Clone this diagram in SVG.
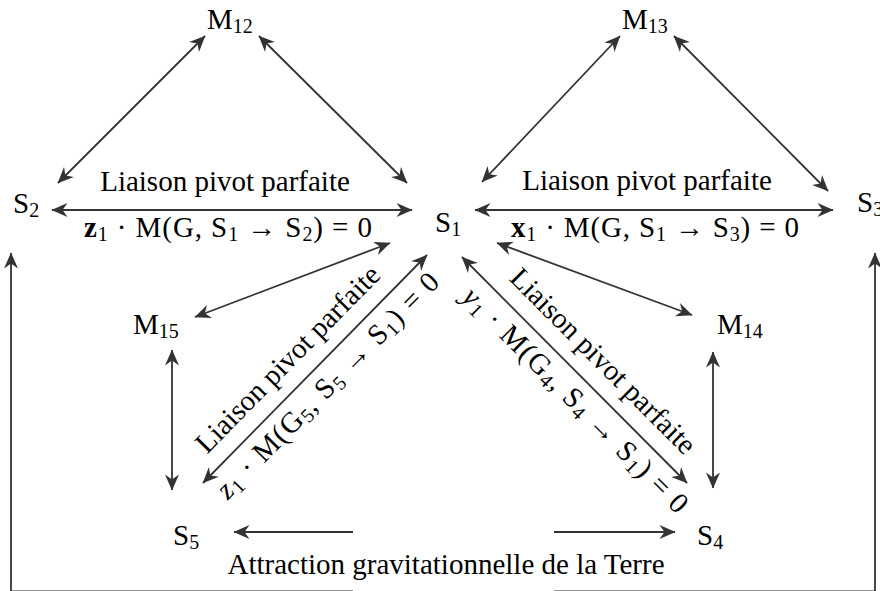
<svg xmlns="http://www.w3.org/2000/svg" width="880" height="591" viewBox="0 0 880 591">
<style>
text{font-family:"Liberation Serif","Times New Roman",serif;font-size:29px;fill:#000}
.sub{font-size:20px}
.c{stroke:#333;stroke-width:1.8;fill:none}
.b{font-weight:bold}
</style>
<defs>
<marker id="ah" viewBox="-17 -8 18 16" refX="0" refY="0" markerWidth="18" markerHeight="16" markerUnits="userSpaceOnUse" orient="auto-start-reverse">
<path d="M0.5,0 L-15.5,-7 L-10.5,0 L-15.5,7 Z" fill="#333"/>
</marker>
</defs>
<rect width="880" height="591" fill="#fff"/>
<g id="connectors">
<line class="c" x1="205" y1="36" x2="58" y2="183" marker-start="url(#ah)" marker-end="url(#ah)"/>
<line class="c" x1="259" y1="36" x2="407" y2="183" marker-start="url(#ah)" marker-end="url(#ah)"/>
<line class="c" x1="52" y1="210" x2="412" y2="210" marker-start="url(#ah)" marker-end="url(#ah)"/>
<line class="c" x1="620" y1="36" x2="482" y2="182" marker-start="url(#ah)" marker-end="url(#ah)"/>
<line class="c" x1="674" y1="36" x2="828" y2="191" marker-start="url(#ah)" marker-end="url(#ah)"/>
<line class="c" x1="475" y1="210" x2="833" y2="210" marker-start="url(#ah)" marker-end="url(#ah)"/>
<line class="c" x1="195" y1="317" x2="390" y2="243" marker-start="url(#ah)" marker-end="url(#ah)"/>
<line class="c" x1="172" y1="350" x2="172" y2="490" marker-start="url(#ah)" marker-end="url(#ah)"/>
<line class="c" x1="203" y1="483" x2="427" y2="255" marker-start="url(#ah)" marker-end="url(#ah)"/>
<line class="c" x1="692" y1="315" x2="497" y2="243" marker-start="url(#ah)" marker-end="url(#ah)"/>
<line class="c" x1="713" y1="352" x2="713" y2="488" marker-start="url(#ah)" marker-end="url(#ah)"/>
<line class="c" x1="687" y1="483" x2="462" y2="257" marker-start="url(#ah)" marker-end="url(#ah)"/>
<line class="c" x1="353" y1="532" x2="234" y2="532" marker-end="url(#ah)"/>
<line class="c" x1="554" y1="532" x2="675" y2="532" marker-end="url(#ah)"/>
<path class="c" d="M353,591.3 H11 V253" marker-end="url(#ah)"/>
<path class="c" d="M554,591.3 H875 V253" marker-end="url(#ah)"/>
</g>
<g id="M12"><text x="207" y="29">M<tspan class="sub" dy="4">12</tspan></text></g>
<g id="M13"><text x="622" y="29">M<tspan class="sub" dy="4">13</tspan></text></g>
<g id="S2"><text x="13" y="213">S<tspan class="sub" dy="4">2</tspan></text></g>
<g id="S1"><text x="435" y="232">S<tspan class="sub" dy="4">1</tspan></text></g>
<g id="S3"><text x="857" y="212">S<tspan class="sub" dy="4">3</tspan></text></g>
<g id="M15"><text x="133" y="334">M<tspan class="sub" dy="4">15</tspan></text></g>
<g id="M14"><text x="717" y="334">M<tspan class="sub" dy="4">14</tspan></text></g>
<g id="S5"><text x="173" y="545">S<tspan class="sub" dy="4">5</tspan></text></g>
<g id="S4"><text x="697" y="545">S<tspan class="sub" dy="4">4</tspan></text></g>
<g id="labels">
<text x="225" y="191" text-anchor="middle">Liaison pivot parfaite</text>
<text x="228" y="237" text-anchor="middle" textLength="288" lengthAdjust="spacing"><tspan class="b">z</tspan><tspan class="sub" dy="4">1</tspan><tspan dy="-4"> · M(G, S</tspan><tspan class="sub" dy="4">1</tspan><tspan dy="-4"> → S</tspan><tspan class="sub" dy="4">2</tspan><tspan dy="-4">) = 0</tspan></text>
<text x="647" y="190" text-anchor="middle">Liaison pivot parfaite</text>
<text x="655" y="237" text-anchor="middle" textLength="288" lengthAdjust="spacing"><tspan class="b">x</tspan><tspan class="sub" dy="4">1</tspan><tspan dy="-4"> · M(G, S</tspan><tspan class="sub" dy="4">1</tspan><tspan dy="-4"> → S</tspan><tspan class="sub" dy="4">3</tspan><tspan dy="-4">) = 0</tspan></text>
<g transform="translate(315,369) rotate(-45.5)">
<text x="-12" y="-17" text-anchor="middle">Liaison pivot parfaite</text>
<text x="-3" y="30" text-anchor="middle" textLength="304" lengthAdjust="spacing"><tspan font-style="italic">z</tspan><tspan class="sub" dy="4">1</tspan><tspan dy="-4"> · M(G</tspan><tspan class="sub" dy="4">5</tspan><tspan dy="-4">, S</tspan><tspan class="sub" dy="4">5</tspan><tspan dy="-4"> → S</tspan><tspan class="sub" dy="4">1</tspan><tspan dy="-4">) = 0</tspan></text>
</g>
<g transform="translate(574.5,370) rotate(45)">
<text x="14" y="-17" text-anchor="middle">Liaison pivot parfaite</text>
<text x="22" y="30" text-anchor="middle" textLength="306" lengthAdjust="spacing"><tspan font-style="italic">y</tspan><tspan class="sub" dy="4">1</tspan><tspan dy="-4"> · M(G</tspan><tspan class="sub" dy="4">4</tspan><tspan dy="-4">, S</tspan><tspan class="sub" dy="4">4</tspan><tspan dy="-4"> → S</tspan><tspan class="sub" dy="4">1</tspan><tspan dy="-4">) = 0</tspan></text>
</g>
<text x="446" y="574" text-anchor="middle">Attraction gravitationnelle de la Terre</text>
</g>
</svg>
